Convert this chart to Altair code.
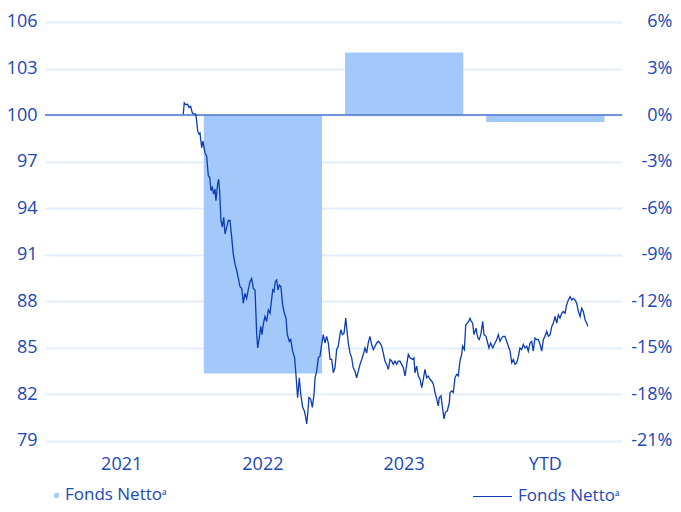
import altair as alt
import pandas as pd

# ---------------- data ----------------
categories = ["2021", "2022", "2023", "YTD"]
bar_periods = ["2022", "2023", "YTD"]
bar_returns = [-0.1667, 0.0403, -0.0045]

line_years = [
    2021.935, 2021.942, 2021.954, 2021.966, 2021.975, 2021.987, 2021.999, 2022.013, 2022.023, 2022.027,
    2022.037, 2022.046, 2022.053, 2022.065, 2022.074, 2022.088, 2022.100, 2022.112, 2022.122, 2022.131,
    2022.140, 2022.150, 2022.159, 2022.166, 2022.178, 2022.185, 2022.192, 2022.201, 2022.211, 2022.221,
    2022.230, 2022.242, 2022.253, 2022.265, 2022.277, 2022.288, 2022.300, 2022.312, 2022.324, 2022.336,
    2022.348, 2022.359, 2022.371, 2022.383, 2022.394, 2022.406, 2022.418, 2022.430, 2022.442,
    2022.454, 2022.461, 2022.472, 2022.482, 2022.491, 2022.500, 2022.512, 2022.524, 2022.536, 2022.548,
    2022.560, 2022.567, 2022.576, 2022.585, 2022.595, 2022.604, 2022.614, 2022.625, 2022.637, 2022.649,
    2022.661, 2022.670, 2022.684, 2022.694, 2022.708, 2022.722, 2022.731, 2022.743, 2022.755, 2022.765,
    2022.779, 2022.790, 2022.800, 2022.807, 2022.814, 2022.823, 2022.835, 2022.847, 2022.859, 2022.866,
    2022.878, 2022.889, 2022.901, 2022.913, 2022.924, 2022.936, 2022.948, 2022.960, 2022.972, 2022.984,
    2022.995, 2023.007, 2023.019, 2023.030,
    2023.042, 2023.049, 2023.059, 2023.071, 2023.083, 2023.090, 2023.101, 2023.113, 2023.125, 2023.136,
    2023.148, 2023.160, 2023.172, 2023.184, 2023.196, 2023.207, 2023.219, 2023.231, 2023.242, 2023.254,
    2023.266, 2023.278, 2023.290, 2023.302, 2023.313, 2023.325, 2023.337, 2023.348, 2023.360, 2023.372,
    2023.384, 2023.396, 2023.408, 2023.419, 2023.431, 2023.443, 2023.454, 2023.466, 2023.478, 2023.490,
    2023.502, 2023.514, 2023.525,
    2023.537, 2023.556, 2023.565, 2023.572, 2023.584, 2023.596, 2023.608, 2023.620, 2023.631, 2023.643,
    2023.655, 2023.666, 2023.678, 2023.690, 2023.702, 2023.714, 2023.726, 2023.737, 2023.744, 2023.756,
    2023.768, 2023.777, 2023.787, 2023.801, 2023.815, 2023.820, 2023.832, 2023.843, 2023.855, 2023.867,
    2023.878, 2023.890, 2023.902, 2023.909, 2023.921, 2023.931, 2023.942, 2023.952, 2023.961, 2023.970,
    2023.980, 2023.989, 2024.004, 2024.016, 2024.027, 2024.039, 2024.051, 2024.060, 2024.074, 2024.086,
    2024.095, 2024.107, 2024.122, 2024.133,
    2024.150, 2024.161, 2024.173, 2024.185, 2024.196, 2024.208, 2024.220, 2024.232, 2024.244, 2024.256,
    2024.267, 2024.279, 2024.291, 2024.303, 2024.314, 2024.326, 2024.338, 2024.350, 2024.362, 2024.373,
    2024.385, 2024.397, 2024.408, 2024.420, 2024.433, 2024.444, 2024.456, 2024.468, 2024.479, 2024.491,
    2024.503, 2024.515, 2024.527, 2024.539, 2024.550, 2024.562, 2024.574, 2024.585, 2024.597, 2024.609,
    2024.620, 2024.633, 2024.644, 2024.656, 2024.668, 2024.680, 2024.691, 2024.703, 2024.715, 2024.727,
    2024.739, 2024.750, 2024.762, 2024.774, 2024.786, 2024.793,
]
line_values = [
    100.06, 100.79, 100.66, 100.70, 100.49, 100.56, 100.13, 100.08, 100.06, 99.81,
    98.96, 98.78, 98.85, 97.89, 98.32, 97.57, 97.36, 96.08, 95.97, 95.12,
    95.33, 94.90, 95.22, 94.48, 95.54, 95.86, 95.12, 93.20, 92.77, 93.41,
    92.34, 92.77, 93.20, 93.20, 92.13, 91.06, 90.42, 90.00, 89.46, 88.93,
    88.82, 87.86, 88.50, 88.18, 88.72, 89.25, 89.46, 88.82, 88.72,
    85.84, 84.98, 85.62, 86.37, 85.84, 86.48, 87.01, 86.69, 87.44, 87.22,
    88.18, 88.72, 88.61, 89.25, 89.36, 88.72, 89.04, 88.93, 87.76, 87.22,
    86.90, 85.84, 85.41, 85.52, 84.77, 84.34, 83.28, 81.78, 83.06, 82.00,
    81.15, 80.93, 80.51, 80.08, 80.72, 81.78, 81.68, 81.15, 82.00, 83.06,
    83.49, 84.34, 84.45, 85.20, 85.84, 85.30, 85.73, 85.30, 84.24, 84.24,
    83.38, 83.70, 84.88, 85.09,
    85.84, 86.16, 85.84, 85.94, 86.90, 86.26, 85.30, 84.66, 84.34, 83.70,
    83.49, 83.06, 83.49, 83.92, 84.24, 84.56, 84.98, 84.66, 85.30, 85.73,
    85.20, 84.88, 85.09, 85.30, 85.41, 85.30, 85.09, 84.66, 84.13, 83.92,
    83.60, 84.24, 84.13, 83.92, 84.13, 83.92, 84.13, 84.13, 83.92, 83.70,
    83.17, 83.92, 84.56,
    84.34, 84.24, 84.34, 83.38, 83.81, 83.17, 82.96, 82.42, 82.96, 83.60,
    83.06, 83.17, 82.96, 82.85, 82.64, 82.10, 81.68, 81.25, 81.78, 81.89,
    81.04, 80.40, 80.83, 80.93, 81.47, 82.10, 82.21, 82.10, 83.06, 83.28,
    83.17, 84.13, 84.56, 85.09, 84.88, 86.48, 86.58, 86.69, 86.90, 86.69,
    86.58, 85.84, 86.26, 85.62, 85.52, 85.94, 86.69, 85.84, 85.73, 85.30,
    84.98, 85.30, 84.98, 85.20,
    85.52, 85.84, 85.41, 85.62, 85.73, 85.73, 85.41, 85.09, 84.77, 84.02,
    84.24, 83.92, 84.02, 84.45, 84.98, 84.88, 85.20, 84.98, 85.09, 84.77,
    85.30, 85.41, 84.77, 85.62, 85.52, 85.52, 85.20, 84.77, 85.52, 85.73,
    86.05, 85.73, 85.84, 86.37, 86.58, 87.01, 86.58, 87.12, 86.90, 87.22,
    87.33, 87.22, 87.76, 88.08, 88.29, 88.08, 88.18, 88.08, 87.86, 87.33,
    87.01, 87.54, 87.33, 86.80, 86.58, 86.37,
]
left_ticks = [79, 82, 85, 88, 91, 94, 97, 100, 103, 106]
right_ticks = [-0.21, -0.18, -0.15, -0.12, -0.09, -0.06, -0.03, 0.0, 0.03, 0.06]
series_label = "Fonds Netto\u1d43"
baseline = [100]

# ---------------- styling ----------------
BAR = "#a3c9fb"
LINE = "#0b3cb3"
ZERO = "#4d74cc"
GRID = "#e4eefb"
TEXT = "#2148b5"
FONT = "Open Sans"

bar_df = pd.DataFrame({"period": bar_periods, "ret": bar_returns, "series": series_label})
line_df = pd.DataFrame({"year": line_years, "value": line_values, "series": series_label})
rule_df = pd.DataFrame({"v": baseline})

bars = alt.Chart(bar_df).mark_bar().encode(
    x=alt.X("period:N",
            scale=alt.Scale(domain=categories, paddingInner=0.1625, paddingOuter=0.124),
            axis=alt.Axis(title=None, labelAngle=0, ticks=False, domain=False, grid=False,
                          labelFontSize=18, labelPadding=15, labelColor=TEXT, labelFont=FONT)),
    y=alt.Y("ret:Q",
            scale=alt.Scale(domain=[-0.21, 0.06], nice=False, zero=False),
            axis=alt.Axis(orient="right", title=None, values=right_ticks, grid=False, ticks=False,
                          domain=False, labelAlign="right", labelPadding=50, labelFontSize=18,
                          labelColor=TEXT, labelFont=FONT,
                          labelExpr="round(datum.value*100) + '%'")),
    y2=alt.datum(0),
    color=alt.Color("series:N", scale=alt.Scale(range=[BAR]),
                    legend=alt.Legend(title=None, orient="none", legendX=3, legendY=465,
                                      symbolType="square", symbolSize=22, labelFontSize=17,
                                      labelColor=TEXT, labelFont=FONT, labelOffset=0, padding=0)),
)

rule = alt.Chart(rule_df).mark_rule(color=ZERO, strokeWidth=1.5).encode(
    y=alt.Y("v:Q", scale=alt.Scale(domain=[79, 106], nice=False, zero=False), axis=None),
)

line = alt.Chart(line_df).mark_line(strokeWidth=1.3).encode(
    x=alt.X("year:Q", scale=alt.Scale(domain=[2020.958, 2025.035], nice=False, zero=False), axis=None),
    y=alt.Y("value:Q",
            scale=alt.Scale(domain=[79, 106], nice=False, zero=False),
            axis=alt.Axis(orient="left", title=None, values=left_ticks, grid=True, gridColor=GRID,
                          gridWidth=2, ticks=False, domain=False, labelPadding=8, labelFontSize=18,
                          labelColor=TEXT, labelFont=FONT)),
    color=alt.Color("series:N", scale=alt.Scale(range=[LINE]),
                    legend=alt.Legend(title=None, orient="none", legendX=427, legendY=454,
                                      symbolType="stroke", symbolSize=1521, symbolStrokeWidth=1.2,
                                      labelFontSize=17, labelColor=TEXT, labelFont=FONT,
                                      labelOffset=5, padding=0)),
)

chart = alt.layer(bars, rule, line).resolve_scale(
    x="independent", y="independent", color="independent"
).resolve_legend(color="independent").properties(
    width=577, height=418.7,
    padding={"left": 37, "top": 14, "right": 51, "bottom": 68},
    autosize=alt.AutoSizeParams(type="none"),
).configure_view(stroke=None)

chart.save("out.html", embed_options={"renderer": "svg", "actions": False})
